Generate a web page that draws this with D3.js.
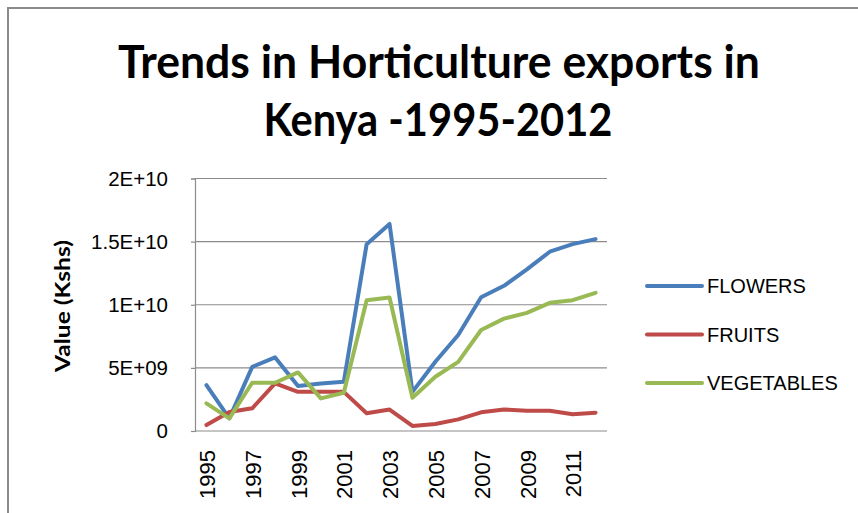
<!DOCTYPE html>
<html>
<head>
<meta charset="utf-8">
<script src="https://cdn.jsdelivr.net/npm/d3@7"></script>
<style>
  html, body { margin: 0; padding: 0; background: #fff; }
  svg { display: block; }
  text { font-family: 'Liberation Sans', Arial, sans-serif; fill: #000; }
</style>
</head>
<body>
<svg id="chart" width="858" height="513"></svg>
<script>
// Horticulture export values, Kenya (Kshs)
const years = [1995, 1996, 1997, 1998, 1999, 2000, 2001, 2002, 2003,
               2004, 2005, 2006, 2007, 2008, 2009, 2010, 2011, 2012];
const flowers = [3.64e9, 1.0e9, 5.08e9, 5.83e9, 3.56e9, 3.77e9, 3.9e9, 14.8e9, 16.4e9,
                 3.1e9, 5.48e9, 7.6e9, 10.6e9, 11.5e9, 12.8e9, 14.2e9, 14.8e9, 15.2e9];
const fruits = [0.47e9, 1.5e9, 1.8e9, 3.77e9, 3.1e9, 3.1e9, 3.1e9, 1.4e9, 1.7e9,
                0.4e9, 0.55e9, 0.92e9, 1.48e9, 1.7e9, 1.6e9, 1.6e9, 1.32e9, 1.45e9];
const vegetables = [2.19e9, 1.0e9, 3.82e9, 3.82e9, 4.64e9, 2.58e9, 3.03e9, 10.36e9, 10.57e9,
                    2.63e9, 4.3e9, 5.48e9, 8.0e9, 8.9e9, 9.36e9, 10.15e9, 10.36e9, 10.94e9];
const seriesNames = ["FLOWERS", "FRUITS", "VEGETABLES"];
const yTickValues = [0, 5e9, 1e10, 1.5e10, 2e10];
const yTickLabels = ["0", "5E+09", "1E+10", "1.5E+10", "2E+10"];
const xTickYears = [1995, 1997, 1999, 2001, 2003, 2005, 2007, 2009, 2011];

const series = [
  { name: seriesNames[0], values: flowers, color: "#4A7EBB" },
  { name: seriesNames[1], values: fruits, color: "#BE4B48" },
  { name: seriesNames[2], values: vegetables, color: "#98B954" }
];

const svg = d3.select("#chart");
const plot = { left: 195, right: 607, top: 178.5, bottom: 431 };

// outer chart frame (runs off the right and bottom edges)
svg.append("rect")
  .attr("x", 8).attr("y", 8)
  .attr("width", 900).attr("height", 560)
  .attr("fill", "#fff")
  .attr("stroke", "#8a8a8a")
  .attr("stroke-width", 2);

// title
const titleFont = "Lato, 'Liberation Sans', sans-serif";
const title = svg.append("g").attr("font-weight", "bold");
title.append("text")
  .attr("x", 439).attr("y", 78)
  .attr("text-anchor", "middle")
  .attr("textLength", 642).attr("lengthAdjust", "spacingAndGlyphs")
  .style("font-family", titleFont)
  .style("font-size", "45px")
  .text("Trends in Horticulture exports in");
title.append("text")
  .attr("x", 438).attr("y", 136)
  .attr("text-anchor", "middle")
  .attr("textLength", 349).attr("lengthAdjust", "spacingAndGlyphs")
  .style("font-family", titleFont)
  .style("font-size", "45px")
  .text("Kenya -1995-2012");

const x = d3.scaleBand().domain(years).range([plot.left, plot.right]).padding(0);
const cx = d => x(d) + x.bandwidth() / 2;
const y = d3.scaleLinear().domain([0, 2e10]).range([plot.bottom, plot.top]);

// horizontal gridlines
svg.append("g")
  .selectAll("line")
  .data(yTickValues.filter(v => v > 0))
  .join("line")
  .attr("x1", plot.left).attr("x2", plot.right)
  .attr("y1", d => y(d)).attr("y2", d => y(d))
  .attr("stroke", "#8c8c8c").attr("stroke-width", 1.2);

// y axis
const yAxis = d3.axisLeft(y)
  .tickValues(yTickValues)
  .tickSize(4)
  .tickPadding(23)
  .tickFormat((d, i) => yTickLabels[i]);
const gy = svg.append("g").attr("transform", `translate(${plot.left},0)`).call(yAxis);
gy.select(".domain").attr("stroke", "#8c8c8c").attr("stroke-width", 1.2);
gy.selectAll(".tick line").attr("stroke", "#8c8c8c").attr("stroke-width", 1.2);
gy.selectAll(".tick text")
  .attr("fill", "#000")
  .style("font-family", "'Liberation Sans', Arial, sans-serif")
  .style("font-size", "20.5px");

// x axis baseline
svg.append("line")
  .attr("x1", plot.left).attr("x2", plot.right)
  .attr("y1", plot.bottom).attr("y2", plot.bottom)
  .attr("stroke", "#8c8c8c").attr("stroke-width", 1.2);

// x labels, rotated
svg.append("g")
  .selectAll("text")
  .data(xTickYears)
  .join("text")
  .attr("transform", d => `translate(${cx(d) + 1},450) rotate(-90)`)
  .attr("text-anchor", "end")
  .attr("dy", "0.35em")
  .style("font-size", "22px")
  .text(d => d);

// y axis title
svg.append("text")
  .attr("transform", "translate(70,306) rotate(-90)")
  .attr("text-anchor", "middle")
  .attr("font-weight", "bold")
  .attr("textLength", 132).attr("lengthAdjust", "spacingAndGlyphs")
  .style("font-family", titleFont)
  .style("font-size", "21px")
  .text("Value (Kshs)");

// series lines
const line = d3.line()
  .x((d, i) => cx(years[i]))
  .y(d => y(d));
svg.append("g")
  .selectAll("path")
  .data(series)
  .join("path")
  .attr("d", s => line(s.values))
  .attr("fill", "none")
  .attr("stroke", s => s.color)
  .attr("stroke-width", 4)
  .attr("stroke-linejoin", "round")
  .attr("stroke-linecap", "round");

// legend
const legend = svg.append("g")
  .selectAll("g")
  .data(series)
  .join("g")
  .attr("transform", (d, i) => `translate(647,${286 + i * 48.5})`);
legend.append("line")
  .attr("x1", 0).attr("x2", 55)
  .attr("stroke", d => d.color)
  .attr("stroke-width", 4)
  .attr("stroke-linecap", "round");
legend.append("text")
  .attr("x", 60)
  .attr("dy", "0.35em")
  .style("font-size", "20px")
  .text(d => d.name);
</script>
</body>
</html>
